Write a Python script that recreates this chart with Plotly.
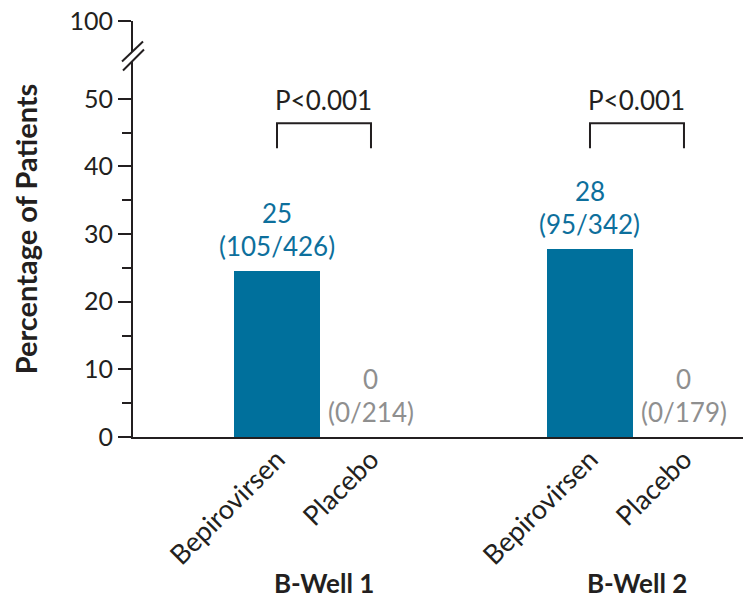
import plotly.graph_objects as go

# ---- data ----
groups = ["B-Well 1", "B-Well 2"]
arms = ["Bepirovirsen", "Placebo"]
percent = [[24.6, 0.0], [27.8, 0.0]]          # bar heights (%)
pct_labels = [["25", "0"], ["28", "0"]]
count_labels = [["(105/426)", "(0/214)"], ["(95/342)", "(0/179)"]]
p_values = ["P<0.001", "P<0.001"]
y_tickvals = [0, 10, 20, 30, 40, 50]
y_ticktext = ["0", "10", "20", "30", "40", "50"]
y_minor = [5, 15, 25, 35, 45]
y_break_label = "100"

# ---- style ----
FONT = "Lato"
DARK = "#231f20"
BLUE = "#00709c"
BLUE_TXT = "#0d6f9c"
GRAY = "#8f8f8f"
GROUP_SPACING = 3.33
Y_TOP = 61.5          # axis position where "100" is drawn (after break)
Y_BREAK = 56.4
BRACKET_TOP = 46.4
BRACKET_BOT = 42.7
P_Y = 49.8

fig = go.Figure()

xs, ys, cols = [], [], []
for g in range(len(groups)):
    for a in range(len(arms)):
        xs.append(g * GROUP_SPACING + a)
        ys.append(percent[g][a])
        cols.append(BLUE if a == 0 else GRAY)

fig.add_trace(go.Bar(x=xs, y=ys, marker=dict(color=cols, line=dict(width=0)),
                     width=0.915, hoverinfo="skip", showlegend=False))

annotations = []
shapes = []
for g in range(len(groups)):
    for a in range(len(arms)):
        x = g * GROUP_SPACING + a
        c = BLUE_TXT if a == 0 else GRAY
        annotations.append(dict(x=x, y=percent[g][a], text=pct_labels[g][a], showarrow=False,
                                yanchor="middle", yshift=58, font=dict(family=FONT, size=26, color=c)))
        annotations.append(dict(x=x, y=percent[g][a], text=count_labels[g][a], showarrow=False,
                                yanchor="middle", yshift=25, font=dict(family=FONT, size=26, color=c)))
    x0 = g * GROUP_SPACING
    x1 = g * GROUP_SPACING + 1
    shapes.append(dict(type="path", xref="x", yref="y",
                       path=f"M {x0},{BRACKET_BOT} L {x0},{BRACKET_TOP} L {x1},{BRACKET_TOP} L {x1},{BRACKET_BOT}",
                       line=dict(color=DARK, width=2)))
    annotations.append(dict(x=(x0 + x1) / 2, y=P_Y, text=p_values[g], showarrow=False,
                            yanchor="middle", font=dict(family=FONT, size=26, color=DARK)))
    annotations.append(dict(x=(x0 + x1) / 2, y=0, xref="x", yref="y", text=f"<b>{groups[g]}</b>",
                            showarrow=False, yanchor="middle", yshift=-146,
                            font=dict(family=FONT, size=26, color=DARK)))

# axis break marks
shapes.append(dict(type="path", xref="paper", yref="y", xsizemode="pixel", ysizemode="pixel",
                   xanchor=0, yanchor=Y_BREAK,
                   path="M -10,-15 L 11,6 L 10,14 L -11,-6 Z",
                   fillcolor="white", line=dict(width=0), layer="above"))
shapes.append(dict(type="line", xref="paper", yref="y", xsizemode="pixel", ysizemode="pixel",
                   xanchor=0, yanchor=Y_BREAK, x0=-11, y0=-6, x1=10, y1=14,
                   line=dict(color=DARK, width=2), layer="above"))
shapes.append(dict(type="line", xref="paper", yref="y", xsizemode="pixel", ysizemode="pixel",
                   xanchor=0, yanchor=Y_BREAK, x0=-10, y0=-15, x1=11, y1=6,
                   line=dict(color=DARK, width=2), layer="above"))

tick_x = [g * GROUP_SPACING + a for g in range(len(groups)) for a in range(len(arms))]
tick_t = [arms[a] for g in range(len(groups)) for a in range(len(arms))]

# the page body adds an 8px offset, so margins are shifted by 8px
fig.update_layout(
    width=751, height=598,
    margin=dict(l=125, r=8, t=13, b=169, autoexpand=False),
    paper_bgcolor="white", plot_bgcolor="white",
    annotations=annotations, shapes=shapes,
    bargap=0,
    xaxis=dict(range=[-1.532, 5.043], tickvals=tick_x, ticktext=tick_t, tickangle=-45,
               ticks="", showgrid=False, zeroline=False, showline=True, linecolor=DARK, linewidth=2,
               tickfont=dict(family=FONT, size=27, color=DARK), ticklabelstandoff=-6,
               fixedrange=True, automargin=False),
    yaxis=dict(range=[0, Y_TOP], tickvals=y_tickvals + [Y_TOP], ticktext=y_ticktext + [y_break_label],
               ticks="outside", ticklen=13, tickwidth=2, tickcolor=DARK,
               minor=dict(tickvals=y_minor, ticks="outside", ticklen=9, tickwidth=2, tickcolor=DARK),
               showgrid=False, zeroline=False, showline=True, linecolor=DARK, linewidth=2,
               tickfont=dict(family=FONT, size=25, color=DARK), ticklabeloverflow="allow",
               title=dict(text="<b>Percentage of Patients</b>", standoff=36,
                          font=dict(family=FONT, size=29, color=DARK)),
               fixedrange=True, automargin=False),
)

fig.write_html("out.html")
